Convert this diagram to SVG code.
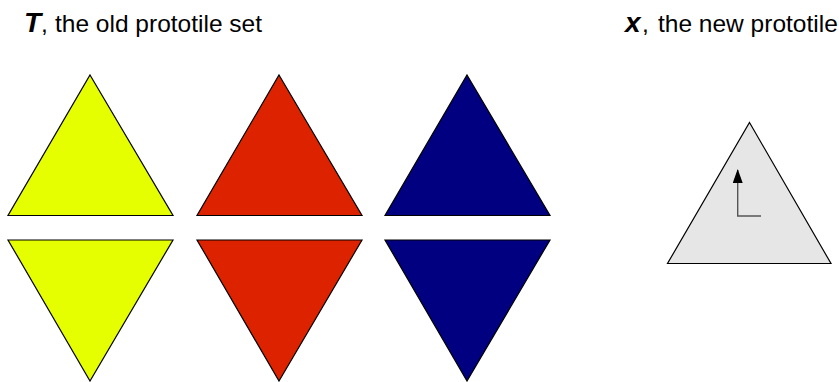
<svg xmlns="http://www.w3.org/2000/svg" width="839" height="382" viewBox="0 0 839 382">
<defs>
<style>
.t{stroke:#000;stroke-width:1.2;stroke-linejoin:miter}
.y{fill:#e5ff00}.r{fill:#dd2200}.b{fill:#000080}.g{fill:#e6e6e6}
.lbl{font-family:"Liberation Sans",Arial,sans-serif;font-size:24.5px;fill:#000}
.sym{font-weight:bold;font-style:italic;font-size:28px}
</style>
<marker id="ah" viewBox="0 0 14 10" refX="13" refY="5" markerWidth="14" markerHeight="10" markerUnits="userSpaceOnUse" orient="auto">
<path d="M0,0 L14,5 L0,10 z" fill="#000"/>
</marker>
</defs>
<g id="title-T"><text class="lbl" y="32"><tspan class="sym" x="24">T</tspan><tspan x="41">,</tspan><tspan x="55">the old prototile set</tspan></text></g>
<g id="title-x"><text class="lbl" y="32"><tspan class="sym" x="625">x</tspan><tspan x="642">,</tspan><tspan x="658">the new prototile</tspan></text></g>
<g id="yellow-up"><polygon class="t y" points="90,75 173,215.5 8,215.5"/></g>
<g id="yellow-down"><polygon class="t y" points="8,240 173,240 90,381"/></g>
<g id="red-up"><polygon class="t r" points="279,75 362,215.5 197,215.5"/></g>
<g id="red-down"><polygon class="t r" points="197,240 362,240 279,381"/></g>
<g id="blue-up"><polygon class="t b" points="467,75 550,215.5 385,215.5"/></g>
<g id="blue-down"><polygon class="t b" points="385,240 550,240 467,381"/></g>
<g id="gray-tile"><polygon class="t g" points="749.5,122.5 831,263.5 667.5,263.5"/></g>
<g id="connectors">
<path d="M761,216 H737.7 V170" fill="none" stroke="#555" stroke-width="1.4" marker-end="url(#ah)"/>
</g>
</svg>
